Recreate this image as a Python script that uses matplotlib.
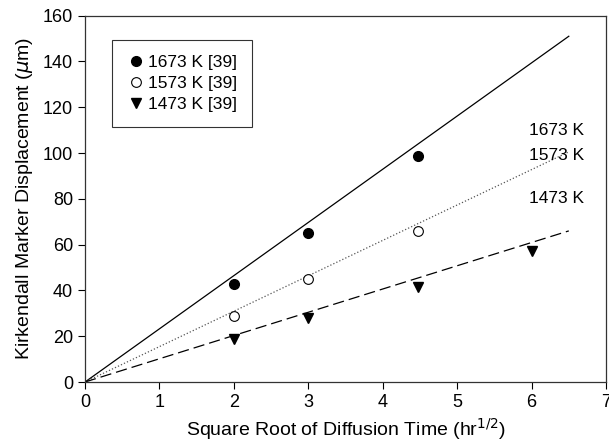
import numpy as np
import matplotlib
matplotlib.use('Agg')
import matplotlib.pyplot as plt

plt.rcParams['font.family'] = ['Liberation Sans', 'DejaVu Sans']

# measured points
x_1673 = [2.0, 3.0, 4.47]
y_1673 = [43, 65, 98.5]
x_1573 = [2.0, 3.0, 4.47]
y_1573 = [29, 45, 66]
x_1473 = [2.0, 3.0, 4.47, 6.0]
y_1473 = [19, 28, 41.5, 57]

# fitted lines (end points)
line_x = [0, 6.5]
line_1673 = [0, 151]
line_1573 = [0, 100.5]
line_1473 = [0, 66]

fig = plt.figure(figsize=(6.09, 4.47), dpi=100)
ax = fig.add_axes([0.1396, 0.1454, 0.8555, 0.8196])

ax.plot(line_x, line_1673, '-', c='black', lw=0.9)
ax.plot(line_x, line_1573, ':', c='#555555', lw=0.9)
ax.plot(line_x, line_1473, '--', c='black', lw=0.9, dashes=(9, 4))

ax.plot(x_1673, y_1673, 'o', c='black', ms=7, label='1673 K [39]')
ax.plot(x_1573, y_1573, 'o', mfc='white', mec='black', mew=0.8, ms=7, label='1573 K [39]')
ax.plot(x_1473, y_1473, 'v', c='black', ms=7.5, label='1473 K [39]')

ax.text(5.97, 110, '1673 K', fontsize=12.5, va='center')
ax.text(5.97, 99, '1573 K', fontsize=12.5, va='center')
ax.text(5.97, 80, '1473 K', fontsize=12.5, va='center')

ax.set_xlim(0, 7)
ax.set_ylim(0, 160)
ax.set_xticks(range(0, 8))
ax.set_yticks(range(0, 161, 20))
ax.tick_params(labelsize=13, direction='out', length=5)
for s in ax.spines.values():
    s.set_color('#333333')
    s.set_linewidth(0.9)

ax.set_xlabel('Square Root of Diffusion Time (hr$^{1/2}$)', fontsize=14)
ax.set_ylabel('Kirkendall Marker Displacement ($\\mu$m)', fontsize=14, labelpad=6)

leg = ax.legend(loc='upper left', bbox_to_anchor=(0.052, 0.934), borderaxespad=0,
                fontsize=12.5, frameon=True, fancybox=False, edgecolor='black',
                handletextpad=0.2, handlelength=1.0, borderpad=0.85, labelspacing=0.35)
leg.get_frame().set_linewidth(0.8)

fig.savefig('out.png', dpi=100)
